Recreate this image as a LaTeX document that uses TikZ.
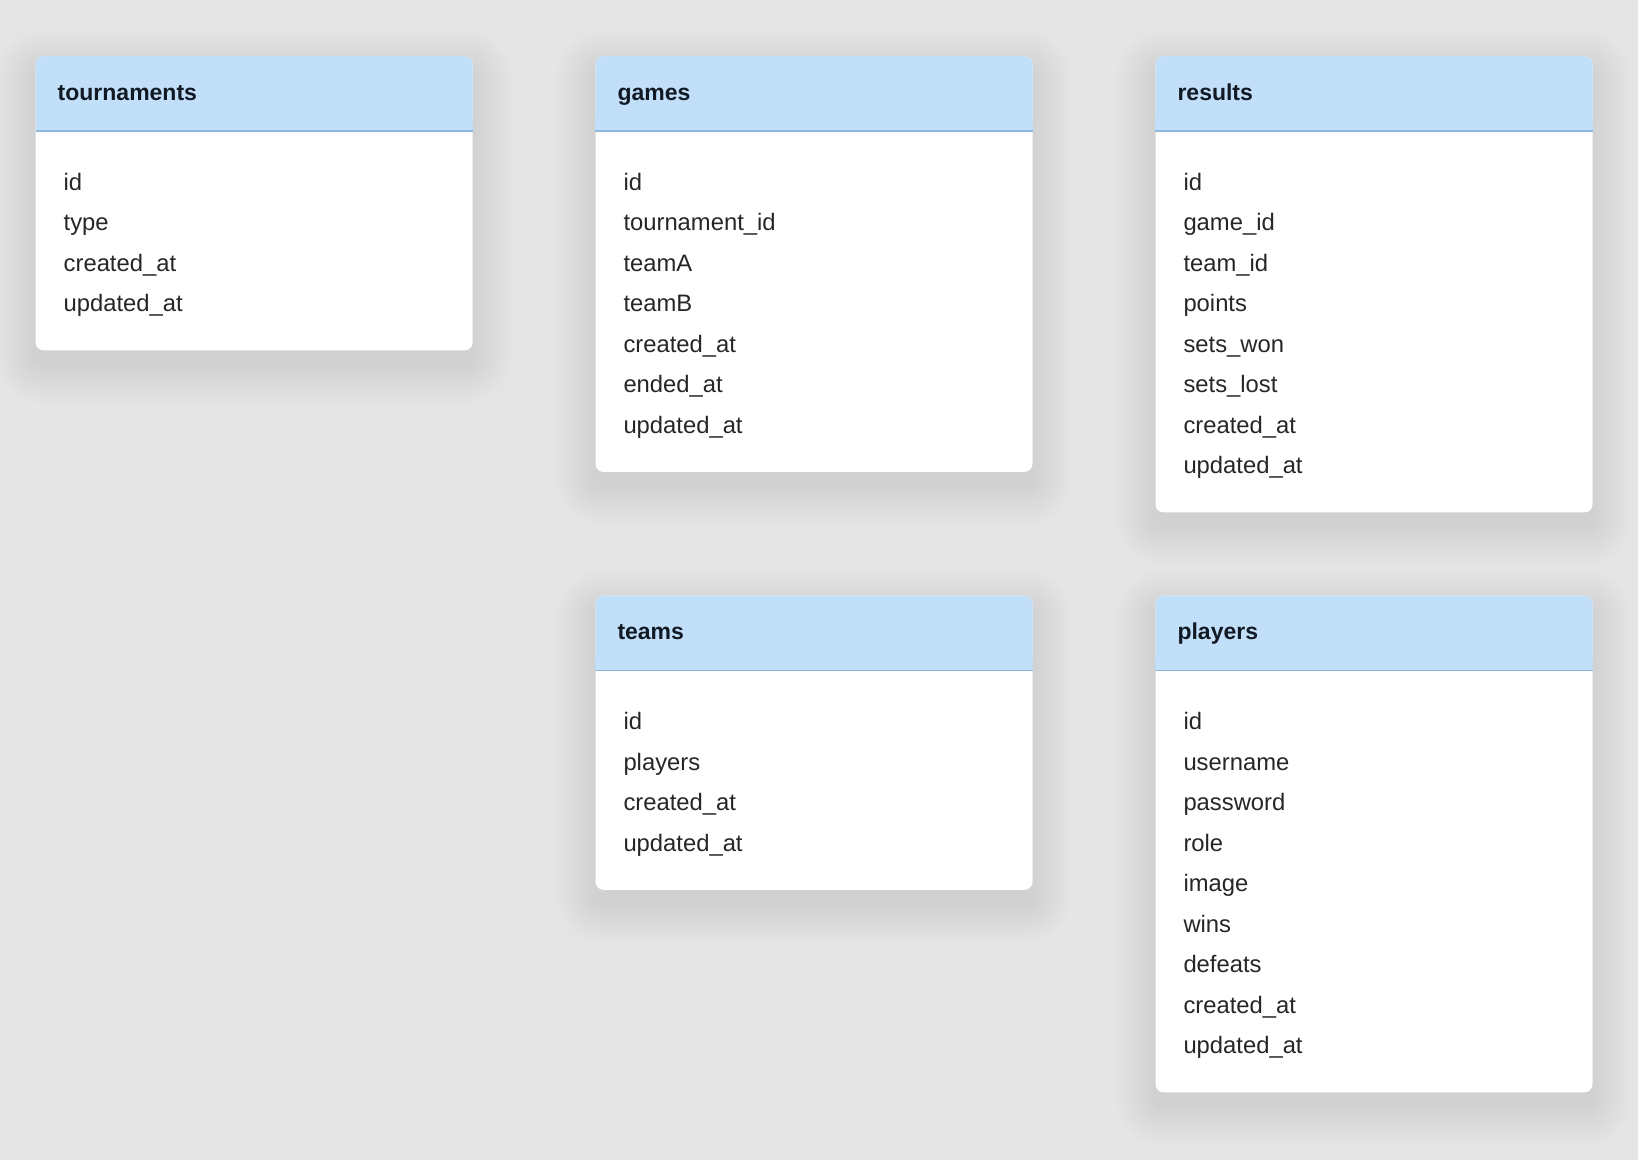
\documentclass[tikz,border=0pt]{standalone}
\usepackage{fontspec}
\setmainfont{Liberation Sans}
\definecolor{bg}{HTML}{E5E5E5}
\definecolor{hdr}{HTML}{C2DFFA}
\definecolor{hdrline}{HTML}{8FB8DE}
\definecolor{ttl}{HTML}{111A24}
\definecolor{fld}{HTML}{262626}
\tikzset{
  card/.style={fill=white, draw=none, rounded corners=8pt, inner sep=0pt},
  shadowlayer/.style={fill=black, fill opacity=0.0045, draw=none},
  hdrbox/.style={fill=hdr, draw=none, rounded corners=8pt, inner sep=0pt},
  ttlstyle/.style={text=ttl, font=\fontsize{23}{27}\selectfont\bfseries, inner sep=0pt},
  fldstyle/.style={text=fld, font=\fontsize{23.8}{28}\selectfont, inner sep=0pt},
}
\newcommand\ertable[5]{%
  \foreach \f [count=\i] in {#5} {\xdef\ertcount{\i}}%
  \pgfmathsetmacro\erth{172.7+(\ertcount-1)*40.5}%
  \foreach \k in {1,...,20} {
    \fill[shadowlayer, rounded corners={8pt+2pt*\k}]
      ({#2pt-2pt*\k},{-#3pt-14pt+2pt*\k}) rectangle
      ({#2pt+437pt+2pt*\k},{-#3pt-\erth pt-14pt-2pt*\k});
  }
  \node[card, minimum width=437pt, minimum height=\erth pt, anchor=north west] (#1) at (#2pt,-#3pt) {};
  \node[hdrbox, minimum width=437pt, minimum height=75pt, anchor=north west] (#1-hdr) at (#1.north west) {};
  \fill[hdr] ([yshift=-60pt]#1.north west) rectangle ([yshift=-75pt]#1.north east);
  \draw[hdrline, line width=1.5pt] ([yshift=-75pt]#1.north west) -- ([yshift=-75pt]#1.north east);
  \node[ttlstyle, anchor=base west] (#1-title) at ([xshift=22pt,yshift=-44pt]#1.north west) {#4};
  \foreach \f [count=\i] in {#5} {
    \node[fldstyle, anchor=base west] (#1-\i) at ([xshift=28pt,yshift={-134.3pt-(\i-1)*40.5pt}]#1.north west) {\f};
  }
}
\begin{document}
\begin{tikzpicture}
\useasboundingbox[fill=bg] (0,0) rectangle (1638pt,-1160pt);
\ertable{tournaments}{35.5}{56}{tournaments}{id,type,created\_at,updated\_at}
\ertable{games}{595.3}{56}{games}{id,tournament\_id,teamA,teamB,created\_at,ended\_at,updated\_at}
\ertable{results}{1155.3}{56}{results}{id,game\_id,team\_id,points,sets\_won,sets\_lost,created\_at,updated\_at}
\ertable{teams}{595.3}{595.4}{teams}{id,players,created\_at,updated\_at}
\ertable{players}{1155.3}{595.4}{players}{id,username,password,role,image,wins,defeats,created\_at,updated\_at}
\end{tikzpicture}
\end{document}
